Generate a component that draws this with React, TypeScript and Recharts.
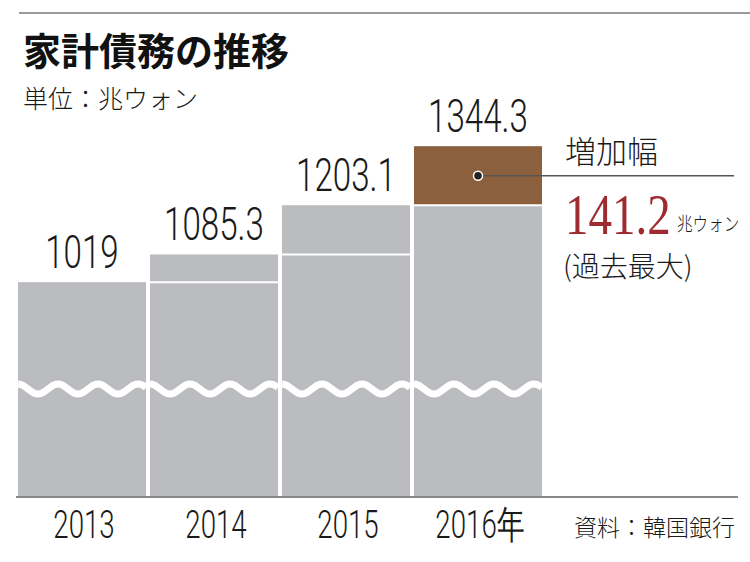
import { Bar, BarChart, LabelList, XAxis, YAxis } from "recharts";

const years = ["2013", "2014", "2015", "2016"];
const tickLabels = ["2013", "2014", "2015", "2016年"];
// previous year's balance (gray base) and the year's increase (top segment)
const baseValues = [1019, 1019, 1085.3, 1203.1];
const increments = [0, 66.3, 117.8, 141.2];
const totals = [1019, 1085.3, 1203.1, 1344.3];

const data = years.map((year, i) => ({
  year,
  label: tickLabels[i],
  base: baseValues[i],
  increase: increments[i],
  total: totals[i],
}));

const GRAY = "#babcbf";
const BROWN = "#8c603c";
const RED = "#9e2b30";
const NUM_FONT = 'Roboto, "Liberation Sans", Arial, sans-serif';
const JP_FONT = '"Noto Sans CJK JP", "Noto Sans", sans-serif';

const BaseShape = (props: any) => {
  const { x, y, width, height } = props;
  const bottom = y + height;
  const mid = bottom - 108;
  let d = "";
  for (let t = 0; t <= width; t += 2) {
    const wy = mid - 5 * Math.cos((2 * Math.PI * t) / 40);
    d += `${t === 0 ? "M" : "L"}${x + t},${wy.toFixed(2)}`;
  }
  return (
    <g>
      <rect x={x} y={y} width={width} height={height} fill={GRAY} />
      <path d={d} stroke="#fff" strokeWidth={7} fill="none" />
    </g>
  );
};

const IncreaseShape = (props: any) => {
  const { x, y, width, height, index } = props;
  if (!height || height <= 0) return <g />;
  const last = index === data.length - 1;
  const cy = y + height / 2;
  return (
    <g>
      <rect x={x} y={y} width={width} height={height} fill={last ? BROWN : GRAY} />
      <line x1={x} x2={x + width} y1={y + height} y2={y + height} stroke="#fff" strokeWidth={2} />
      {last && (
        <>
          <line x1={x + width / 2} y1={cy} x2={734} y2={cy} stroke="#555" strokeWidth={1.5} />
          <circle cx={x + width / 2} cy={cy} r={4.5} fill="#222" stroke="#fff" strokeWidth={1.5} />
        </>
      )}
    </g>
  );
};

const ValueLabel = (props: any) => {
  const vb = props.viewBox || props;
  const cx = Number(vb.x) + Number(vb.width) / 2;
  const top = Math.min(Number(vb.y), Number(vb.y) + Number(vb.height));
  return (
    <text
      transform={`translate(${cx},${top - 14}) scale(0.72,1)`}
      textAnchor="middle"
      fontFamily={NUM_FONT}
      fontWeight={300}
      fontSize={46}
      fill="#1a1a1a"
    >
      {props.value}
    </text>
  );
};

const YearTick = (props: any) => {
  const { x, y, payload } = props;
  return (
    <text
      transform={`translate(${x + 2},${y + 41}) scale(0.71,1)`}
      textAnchor="middle"
      fontFamily={NUM_FONT}
      fontWeight={300}
      fontSize={39}
      fill="#1a1a1a"
    >
      {payload.value}
    </text>
  );
};

const App = () => (
  <div style={{ position: "absolute", left: 0, top: 0, width: 750, height: 562, background: "#fff" }}>
    <BarChart
      width={750}
      height={562}
      data={data}
      margin={{ top: 125, right: 12, left: 16, bottom: 0 }}
      barSize={128}
    >
      <XAxis
        dataKey="label"
        height={65}
        padding={{ left: 0, right: 194 }}
        axisLine={{ stroke: "#888", strokeWidth: 2 }}
        tickLine={false}
        tickSize={0}
        tickMargin={0}
        tick={<YearTick />}
        interval={0}
      />
      <YAxis hide domain={[505, 1395]} allowDataOverflow />
      <Bar dataKey="base" stackId="a" shape={<BaseShape />} isAnimationActive={false} />
      <Bar dataKey="increase" stackId="a" shape={<IncreaseShape />} isAnimationActive={false}>
        <LabelList dataKey="total" content={<ValueLabel />} />
      </Bar>
    </BarChart>
    <svg
      width={750}
      height={562}
      style={{ position: "absolute", left: 0, top: 0, pointerEvents: "none" }}
    >
      <line x1={19} x2={750} y1={13} y2={13} stroke="#9a9a9a" strokeWidth={2} />
      <text x={23} y={65} fontFamily={JP_FONT} fontWeight={700} fontSize={38} fill="#111">
        家計債務の推移
      </text>
      <text x={23} y={108} fontFamily={JP_FONT} fontWeight={300} fontSize={25} fill="#1a1a1a">
        単位：兆ウォン
      </text>
      <text x={565} y={163} fontFamily={JP_FONT} fontWeight={300} fontSize={31} fill="#1a1a1a">
        増加幅
      </text>
      <text
        transform="translate(565,234) scale(0.81,1)"
        fontFamily='"Liberation Serif", serif'
        fontSize={58}
        fill={RED}
      >
        141.2
      </text>
      <text
        transform="translate(677,231) scale(0.82,1)"
        fontFamily={JP_FONT}
        fontWeight={300}
        fontSize={19}
        fill="#1a1a1a"
      >
        兆ウォン
      </text>
      <text x={563} y={277} fontFamily={JP_FONT} fontWeight={300} fontSize={28} fill="#1a1a1a">
        (過去最大)
      </text>
      <text x={574} y={536} fontFamily={JP_FONT} fontWeight={300} fontSize={23} fill="#1a1a1a">
        資料：韓国銀行
      </text>
    </svg>
  </div>
);

export default App;
